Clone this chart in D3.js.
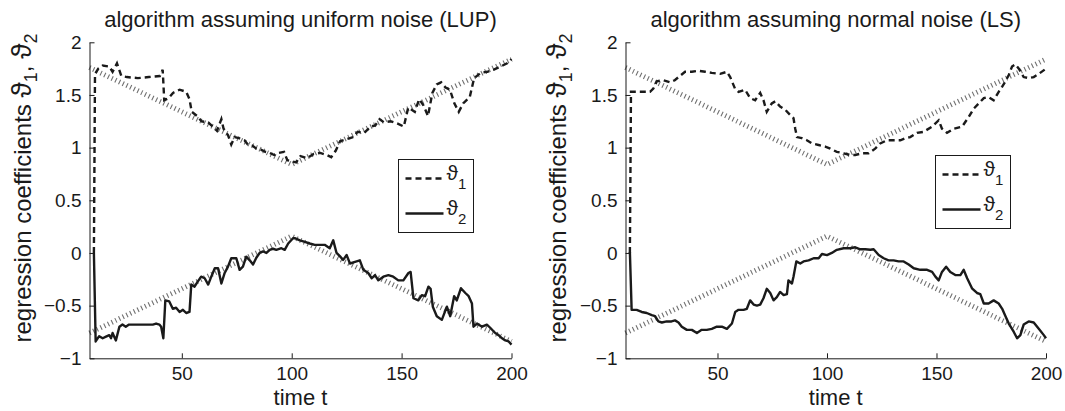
<!DOCTYPE html>
<html>
<head>
<meta charset="utf-8">
<script src="https://cdn.jsdelivr.net/npm/d3@7"></script>
<style>
  body { margin: 0; background: #fff; }
  svg text { font-family: "Liberation Sans", Arial, Helvetica, sans-serif; fill: #1a1a1a; }
</style>
</head>
<body>
<svg id="chart" width="1065" height="411"></svg>
<script>
// axis ticks
var xTicks = [50, 100, 150, 200];
var yTicks = [-1, -0.5, 0, 0.5, 1, 1.5, 2];

// true (simulated) parameters, piecewise linear: [t, value]
var trueTheta1 = [[8, 1.76], [100, 0.84], [200, 1.84]];
var trueTheta2 = [[8, -0.76], [100, 0.16], [200, -0.84]];

// LUP estimates: [t, value]
var lupTheta1 = [[10,0],[10.5,1.70],[12,1.75],[14,1.78],[17,1.77],[18.5,1.72],[20.5,1.80],[22.5,1.68],[25,1.67],[30,1.66],[35,1.67],[40,1.68],[41.3,1.74],[42,1.45],[44,1.47],[46,1.52],[49,1.55],[52,1.53],[53.5,1.46],[54.5,1.34],[57,1.30],[59,1.25],[62,1.24],[64,1.20],[66,1.16],[68,1.27],[69,1.18],[71,1.12],[72.5,1.03],[74,1.10],[76,1.09],[78.5,1.07],[80,1.03],[82,1.02],[84,0.99],[86,0.98],[88,0.96],[90,0.95],[92,0.93],[94,0.95],[96.5,0.96],[98,0.88],[100,0.87],[102,0.86],[104,0.92],[107,0.90],[110,0.94],[113,0.95],[116,0.93],[118,0.91],[120,0.97],[122,1.06],[125,1.08],[128,1.10],[130,1.15],[133,1.14],[136,1.20],[138,1.21],[140,1.27],[142,1.24],[145,1.25],[148,1.23],[151,1.20],[153,1.38],[156,1.34],[158,1.46],[160,1.40],[162,1.30],[164,1.52],[166,1.60],[168,1.62],[170,1.57],[172,1.55],[174,1.42],[176,1.34],[178,1.42],[181,1.48],[183,1.66],[186,1.71],[189,1.72],[192,1.74],[195,1.77],[198,1.80],[200,1.84]];

var lupTheta2 = [[10,0],[10.8,-0.84],[12.4,-0.79],[14,-0.81],[15.5,-0.795],[17,-0.78],[17.8,-0.81],[18.5,-0.76],[20,-0.83],[21.6,-0.70],[23,-0.68],[24.5,-0.70],[26,-0.68],[30,-0.68],[36.8,-0.68],[38.3,-0.67],[39.8,-0.68],[40.6,-0.70],[41.6,-0.81],[42.5,-0.45],[44.3,-0.46],[45.9,-0.53],[47.4,-0.52],[49,-0.56],[50.5,-0.54],[52,-0.57],[53.5,-0.56],[54.3,-0.30],[55.8,-0.32],[57.3,-0.27],[58.8,-0.225],[60.4,-0.24],[62,-0.30],[63.4,-0.225],[65,-0.145],[66.5,-0.145],[68,-0.29],[69.5,-0.19],[71,-0.13],[72.5,-0.05],[74.8,-0.05],[76.3,-0.16],[77.8,-0.13],[79.3,-0.035],[80.9,-0.07],[82.4,-0.11],[83.9,-0.045],[85.4,0.0],[87,0.015],[88.5,0],[90,0.03],[91.5,0.04],[93,0.03],[95.3,0.045],[96.8,0.03],[98.4,0.09],[100.6,0.14],[101.4,0.14],[103.7,0.12],[106,0.105],[108.2,0.09],[110.5,0.077],[115,0.077],[117.3,0.044],[118.9,0.12],[120.4,0],[121.9,-0.03],[123.4,-0.066],[125,-0.02],[126.5,-0.1],[128.8,-0.085],[131,-0.07],[132.6,-0.16],[134.8,-0.19],[136.4,-0.24],[137.9,-0.21],[139.4,-0.26],[141.7,-0.225],[144,-0.21],[146.2,-0.225],[148.5,-0.26],[150.8,-0.26],[153.1,-0.19],[154.1,-0.18],[155.4,-0.43],[157.6,-0.45],[159.2,-0.40],[160.7,-0.41],[162.2,-0.32],[163.2,-0.34],[164.2,-0.51],[166,-0.60],[168.3,-0.635],[170.6,-0.51],[172.1,-0.60],[173.9,-0.41],[175.1,-0.45],[177,-0.335],[179,-0.38],[180.5,-0.41],[182,-0.48],[182.7,-0.70],[184.3,-0.67],[186.6,-0.70],[188.8,-0.68],[190.3,-0.71],[192.6,-0.76],[194.1,-0.78],[195.7,-0.81],[197.2,-0.83],[198.7,-0.84],[200,-0.87]];

// LS estimates: [t, value]
var lsTheta1 = [[10,0],[10.5,1.53],[15,1.53],[19.2,1.53],[20.7,1.56],[22.3,1.63],[25.3,1.64],[28.4,1.62],[30.5,1.64],[32.2,1.67],[35.2,1.72],[38.3,1.72],[41.3,1.73],[44.4,1.72],[47.4,1.71],[51.2,1.70],[54.3,1.72],[55.8,1.67],[58,1.56],[59.6,1.53],[62.6,1.55],[64.9,1.47],[67.2,1.45],[69.5,1.52],[71,1.45],[72.5,1.34],[74.8,1.42],[76.4,1.44],[78.6,1.39],[80.9,1.36],[83.2,1.31],[84.7,1.28],[85.5,1.18],[86.3,1.10],[88.5,1.09],[90.8,1.07],[93.1,1.04],[96.2,1.025],[99.2,1.01],[101.5,0.99],[104.5,0.96],[107.6,0.946],[110.6,0.93],[112.9,0.93],[116,0.946],[119,0.946],[122,0.99],[124.3,1.04],[127.4,1.07],[130.4,1.07],[133.5,1.07],[135.8,1.09],[138,1.10],[141.1,1.14],[144.1,1.15],[148,1.20],[151,1.26],[152.5,1.18],[154.8,1.14],[157.9,1.18],[161.7,1.20],[164.7,1.29],[167,1.37],[169.3,1.42],[171.6,1.47],[173.8,1.48],[176.1,1.45],[178.4,1.53],[180,1.58],[181.5,1.63],[183,1.69],[184.5,1.77],[186,1.79],[187.6,1.75],[189.8,1.67],[192.1,1.66],[194.4,1.67],[196.7,1.70],[200,1.75]];

var lsTheta2 = [[10,0.01],[10.8,-0.54],[13.1,-0.54],[15.4,-0.56],[17.7,-0.57],[20,-0.59],[21.5,-0.60],[23,-0.65],[24.6,-0.66],[26.8,-0.65],[29,-0.65],[30.6,-0.64],[32.2,-0.66],[33.7,-0.70],[36,-0.73],[38.3,-0.73],[40.6,-0.76],[42.8,-0.73],[45.1,-0.73],[47.4,-0.72],[49.7,-0.70],[52,-0.70],[54.3,-0.72],[56.6,-0.67],[58.1,-0.56],[59.6,-0.54],[61.9,-0.54],[63.4,-0.53],[64.9,-0.45],[66.5,-0.49],[68,-0.50],[69.5,-0.49],[71,-0.43],[72.5,-0.34],[74.1,-0.38],[75.6,-0.45],[77.1,-0.42],[78.6,-0.37],[80.2,-0.40],[81.7,-0.39],[82.4,-0.26],[84,-0.29],[84.7,-0.225],[86,-0.08],[87.8,-0.10],[89.3,-0.08],[91.6,-0.07],[93.9,-0.05],[96.2,-0.05],[97.7,-0.01],[100,-0.02],[102.2,0],[104.5,0.03],[107.6,0.045],[110.6,0.045],[112.9,0.054],[115.2,0.035],[117.5,0.035],[119.8,0.03],[121.3,0.035],[123.6,-0.02],[125.9,-0.05],[128.1,-0.07],[130.4,-0.07],[132.7,-0.08],[135,-0.08],[137.3,-0.11],[139.6,-0.145],[142.6,-0.16],[145.7,-0.16],[148,-0.18],[149.5,-0.225],[151,-0.26],[152.5,-0.18],[154.4,-0.13],[156.3,-0.18],[158.6,-0.21],[160.9,-0.21],[162.4,-0.16],[164,-0.24],[166.2,-0.335],[168.5,-0.38],[170,-0.39],[171.6,-0.48],[173.8,-0.48],[176.1,-0.45],[178.4,-0.48],[180,-0.53],[181.5,-0.60],[183,-0.67],[185.3,-0.75],[186.8,-0.81],[188.3,-0.78],[189.8,-0.68],[192.1,-0.65],[194.4,-0.66],[196.7,-0.72],[199,-0.78],[200,-0.81]];

var svg = d3.select("#chart");

function fmt(d) {
	return d < 0 ? "\u2212" + Math.abs(d) : String(d);
}

function drawPanel(p) {
	var x = d3.scaleLinear().domain([8, 200]).range([p.left, p.right]);
	var y = d3.scaleLinear().domain([-1, 2]).range([358.3, 42.3]);
	var g = svg.append("g");

	var line = d3.line()
		.x(function (d) { return x(d[0]); })
		.y(function (d) { return y(d[1]); });

	// true parameters: thick dotted grey
	[trueTheta1, trueTheta2].forEach(function (s) {
		g.append("path")
			.attr("d", line(s))
			.attr("fill", "none")
			.attr("stroke", "#707070")
			.attr("stroke-width", 5)
			.attr("stroke-dasharray", "1.1,3");
	});

	// estimates
	g.append("path")
		.attr("d", line(p.theta1))
		.attr("fill", "none")
		.attr("stroke", "#1a1a1a")
		.attr("stroke-width", 2.4)
		.attr("stroke-dasharray", "6,4");
	g.append("path")
		.attr("d", line(p.theta2))
		.attr("fill", "none")
		.attr("stroke", "#1a1a1a")
		.attr("stroke-width", 2.4)
		.attr("stroke-linejoin", "round");

	// axes, ticks pointing inward
	var yAxis = g.append("g")
		.attr("transform", "translate(" + p.left + ",0)")
		.call(d3.axisLeft(y).tickValues(yTicks).tickFormat(fmt)
			.tickSizeInner(-5).tickSizeOuter(0).tickPadding(8));
	var xAxis = g.append("g")
		.attr("transform", "translate(0,358.3)")
		.call(d3.axisBottom(x).tickValues(xTicks).tickFormat(fmt)
			.tickSizeInner(-5).tickSizeOuter(0).tickPadding(8));
	[yAxis, xAxis].forEach(function (a) {
		a.selectAll("path, line").attr("stroke", "#1a1a1a").attr("stroke-width", 1);
		a.selectAll("text").attr("font-size", 19).attr("fill", "#1a1a1a")
			.style("font-family", "Liberation Sans, Arial, sans-serif");
	});

	var cx = (p.left + p.right) / 2;
	// title
	g.append("text")
		.attr("x", cx).attr("y", 27)
		.attr("text-anchor", "middle")
		.attr("font-size", 22)
		.text(p.title);
	// x label
	g.append("text")
		.attr("x", cx).attr("y", 405)
		.attr("text-anchor", "middle")
		.attr("font-size", 22)
		.text("time t");
	// y label
	var yl = g.append("text")
		.attr("transform", "translate(" + p.ylabX + ",188) rotate(-90)")
		.attr("text-anchor", "middle")
		.attr("font-size", 24);
	yl.append("tspan").text("regression coefficients ");
	yl.append("tspan").attr("font-size", 28).text("\u03d1");
	yl.append("tspan").attr("font-size", 18).attr("dy", 6).text("1");
	yl.append("tspan").attr("dy", -6).text(", ");
	yl.append("tspan").attr("font-size", 28).text("\u03d1");
	yl.append("tspan").attr("font-size", 18).attr("dy", 6).text("2");

	// legend
	var lg = g.append("g").attr("transform", "translate(" + p.legX + "," + p.legY + ")");
	lg.append("rect")
		.attr("width", 75).attr("height", 73)
		.attr("fill", "#fff").attr("stroke", "#1a1a1a").attr("stroke-width", 1);
	var items = [{dash: "6,4", sub: "1", yy: 19}, {dash: null, sub: "2", yy: 54}];
	items.forEach(function (it) {
		lg.append("line")
			.attr("x1", 7).attr("x2", 45)
			.attr("y1", it.yy).attr("y2", it.yy)
			.attr("stroke", "#1a1a1a").attr("stroke-width", 2.4)
			.attr("stroke-dasharray", it.dash);
		var t = lg.append("text")
			.attr("x", 48).attr("y", it.yy + 1)
			.attr("font-size", 21);
		t.append("tspan").text("\u03d1");
		t.append("tspan").attr("font-size", 15).attr("dy", 9).text(it.sub);
	});
}

drawPanel({left: 89.5, right: 511.5, title: "algorithm assuming uniform noise (LUP)",
	theta1: lupTheta1, theta2: lupTheta2, ylabX: 31, legX: 398.5, legY: 159.5});
drawPanel({left: 625.5, right: 1046, title: "algorithm assuming normal noise (LS)",
	theta1: lsTheta1, theta2: lsTheta2, ylabX: 566, legX: 935.5, legY: 155.5});
</script>
</body>
</html>
